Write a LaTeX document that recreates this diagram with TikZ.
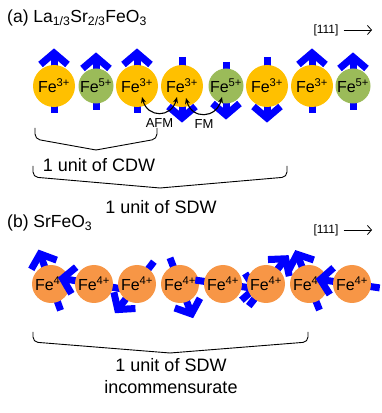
\documentclass[tikz,border=0pt]{standalone}
\usepackage{fontspec}
\setmainfont{Liberation Sans}
\usetikzlibrary{arrows.meta}
\definecolor{feyel}{HTML}{FFC000}
\definecolor{fegrn}{HTML}{9BBB59}
\definecolor{feorg}{HTML}{F79646}
\definecolor{spblue}{HTML}{0000FF}
\newcommand\fsz[1]{\fontsize{#1}{#1}\selectfont}
\tikzset{
  >={Stealth[length=6pt,width=5pt]},
  fa/.style={circle,fill=feyel,minimum size=42pt,inner sep=0pt,font=\fsz{16}},
  fb/.style={circle,fill=fegrn,minimum size=35pt,inner sep=0pt,font=\fsz{16}},
  fc/.style={circle,fill=feorg,minimum size=38pt,inner sep=0pt,font=\fsz{16}},
  sp/.style={spblue,line width=7pt,line join=miter},
  pics/spin/.style 2 args={code={
    \draw[sp] (-#1,0) -- (#2,0);
    \draw[sp] (#2,0) ++(-11.5,13.5) -- (#2,0) -- ++(-11.5,-13.5);}},
  xc/.style={<->,line width=1.1pt,looseness=1.6},
  br/.style={line width=0.9pt,rounded corners=5pt},
  lb/.style={font=\fontsize{18}{22}\selectfont,inner sep=0pt},
  dr/.style={font=\fsz{12},inner sep=1pt},
}
\begin{document}
\begin{tikzpicture}[x=1pt,y=1pt]
\useasboundingbox (0,0) rectangle (382,413);
% (a) La1/3Sr2/3FeO3
\node[anchor=base west,inner sep=0pt,font=\fsz{17.5}] (ta) at (7,390) {(a) La\textsubscript{1/3}Sr\textsubscript{2/3}FeO\textsubscript{3}};
\node[dr] (da) at (326,383) {[111]}; \coordinate (dae) at (372,383);
\draw[->,line width=0.8pt,>={Straight Barb[length=4pt,width=9pt]}] ([xshift=4pt]da.east) -- (dae);
\pic[rotate=90] at (54,327) {spin={27}{33}}; \node[fa] (a1) at (54,327) {Fe\textsuperscript{3+}};
\pic[rotate=90] at (96,327) {spin={24}{29}}; \node[fb] (a2) at (96,327) {Fe\textsuperscript{5+}};
\pic[rotate=90] at (137,327) {spin={27}{33}}; \node[fa] (a3) at (137,327) {Fe\textsuperscript{3+}};
\pic[rotate=-90] at (182,327) {spin={29}{32}}; \node[fa] (a4) at (182,327) {Fe\textsuperscript{3+}};
\pic[rotate=-90] at (226,327) {spin={24}{29}}; \node[fb] (a5) at (226,327) {Fe\textsuperscript{5+}};
\pic[rotate=-90] at (267,327) {spin={29}{32}}; \node[fa] (a6) at (267,327) {Fe\textsuperscript{3+}};
\pic[rotate=90] at (312,327) {spin={27}{33}}; \node[fa] (a7) at (312,327) {Fe\textsuperscript{3+}};
\pic[rotate=90] at (353,327) {spin={24}{29}}; \node[fb] (a8) at (353,327) {Fe\textsuperscript{5+}};
\draw[xc] ([shift={(5,-11)}]a3.center) to[out=-75,in=-105] node[below=2pt,font=\fsz{13}] (afm) {AFM} ([shift={(-5,-11)}]a4.center);
\draw[xc] ([shift={(4,-12)}]a4.center) to[out=-75,in=-105] node[below=2pt,font=\fsz{13}] (fm) {FM} ([shift={(-4,-11)}]a5.center);
% braces
\draw[br] (35,285) -- (35,274) -- (96,263); \draw[br] (157,285) -- (157,274) -- (96,263);
\node[lb] (cdw) at (99,248) {1 unit of CDW};
\draw[br] (33,247) -- (33,236) -- (160,225); \draw[br] (287,247) -- (287,236) -- (160,225);
\node[lb] (sdw) at (161,206) {1 unit of SDW};
% (b) SrFeO3
\node[anchor=base west,inner sep=0pt,font=\fsz{17.5}] (tb) at (7,185) {(b) SrFeO\textsubscript{3}};
\node[dr] (db) at (326,183) {[111]}; \coordinate (dbe) at (372,183);
\draw[->,line width=0.8pt,>={Straight Barb[length=4pt,width=9pt]}] ([xshift=4pt]db.east) -- (dbe);
\pic[rotate=110] at (51,129) {spin={28}{32}}; \node[fc] (b1) at (51,129) {Fe\textsuperscript{4+}};
\pic[rotate=170] at (94,129) {spin={28}{32}}; \node[fc] (b2) at (94,129) {Fe\textsuperscript{4+}};
\pic[rotate=233] at (137,129) {spin={28}{32}}; \node[fc] (b3) at (137,129) {Fe\textsuperscript{4+}};
\pic[rotate=291] at (180,129) {spin={28}{32}}; \node[fc] (b4) at (180,129) {Fe\textsuperscript{4+}};
\pic[rotate=352] at (223,129) {spin={28}{32}}; \node[fc] (b5) at (223,129) {Fe\textsuperscript{4+}};
\pic[rotate=52] at (266,129) {spin={28}{32}}; \node[fc] (b6) at (266,129) {Fe\textsuperscript{4+}};
\pic[rotate=112] at (309,129) {spin={28}{32}}; \node[fc] (b7) at (309,129) {Fe\textsuperscript{4+}};
\pic[rotate=172] at (352,129) {spin={28}{32}}; \node[fc] (b8) at (352,129) {Fe\textsuperscript{4+}};
\draw[br] (33,81) -- (33,71) -- (170,60); \draw[br] (308,81) -- (308,71) -- (170,60);
\node[lb,align=center] (sdwb) at (171,37) {1 unit of SDW\\incommensurate};
\end{tikzpicture}
\end{document}
